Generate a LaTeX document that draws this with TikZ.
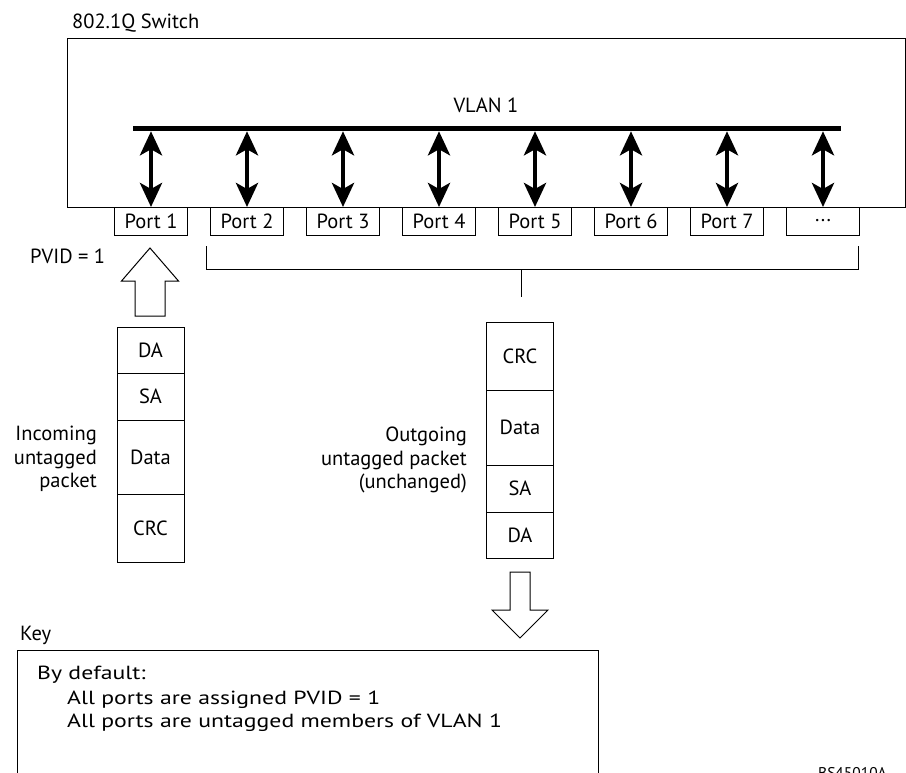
\documentclass[tikz,border=0pt]{standalone}
\usepackage{fontspec}
\setmainfont{PT Sans}
\newfontfamily\keyfont[FakeStretch=1.25]{PT Sans}
\usetikzlibrary{arrows.meta,positioning}

\begin{document}
\begin{tikzpicture}[
    x=1pt, y=-1pt,
    font=\fontsize{20.5}{23.5}\selectfont,
    port/.style={
        rectangle, draw, line width=1pt,
        minimum height=28pt, minimum width=73pt,
        inner sep=0pt, outer sep=0pt
    },
    field/.style={
        rectangle, draw, line width=1pt,
        minimum width=67pt, inner sep=0pt, outer sep=0pt
    },
    lbl/.style={inner sep=0pt, align=right},
    txt/.style={inner sep=0pt, anchor=base west},
    keytxt/.style={txt, font=\keyfont\fontsize{19}{23}\selectfont},
    dblarr/.style={{Stealth[length=24pt,width=22pt,inset=6pt]}-{Stealth[length=24pt,width=22pt,inset=6pt]}, line width=4.5pt},
    hollow/.style={draw, line width=1pt, fill=white, line join=miter}
]
\useasboundingbox (0,0) rectangle (906,772);

% switch
\node[txt] (title) at (72,28) {802.1Q Switch};
\draw[line width=1pt] (67,38) rectangle (905,207);
\node[inner sep=0pt, anchor=base] (vlan) at (486,112) {VLAN 1};
\coordinate (busl) at (133,128.5);
\coordinate (busr) at (841,128.5);
\draw[line width=5.5pt] (busl) -- (busr);

% ports
\node[port] (p1) at (151,221) {Port 1};
\node[port] (p2) at (247,221) {Port 2};
\node[port] (p3) at (343,221) {Port 3};
\node[port] (p4) at (439,221) {Port 4};
\node[port] (p5) at (535,221) {Port 5};
\node[port] (p6) at (631,221) {Port 6};
\node[port] (p7) at (727,221) {Port 7};
\node[port] (p8) at (823,221) {...};
\draw[dblarr, shorten >=2.75pt] (p1.north) -- (p1.north |- busl);
\draw[dblarr, shorten >=2.75pt] (p2.north) -- (p2.north |- busl);
\draw[dblarr, shorten >=2.75pt] (p3.north) -- (p3.north |- busl);
\draw[dblarr, shorten >=2.75pt] (p4.north) -- (p4.north |- busl);
\draw[dblarr, shorten >=2.75pt] (p5.north) -- (p5.north |- busl);
\draw[dblarr, shorten >=2.75pt] (p6.north) -- (p6.north |- busl);
\draw[dblarr, shorten >=2.75pt] (p7.north) -- (p7.north |- busl);
\draw[dblarr, shorten >=2.75pt] (p8.north) -- (p8.north |- busl);

% bracket over ports 2 to n
\coordinate (brl) at (206,246);
\coordinate (brr) at (858,246);
\coordinate (brm) at (521,269);
\draw[line width=1pt] (brl) -- (brl |- brm) -- (brr |- brm) -- (brr);
\draw[line width=1pt] (brm) -- (521,297);

% incoming packet
\node[txt] (pvid) at (30,263) {PVID = 1};
\draw[hollow] (150,248) -- (178.5,281) -- (165,281) -- (165,316)
    -- (135,316) -- (135,281) -- (121.5,281) -- cycle;
\node[field, minimum height=46pt, anchor=north] (inda) at (150.5,327) {DA};
\node[field, minimum height=47pt, below=0pt of inda] (insa) {SA};
\node[field, minimum height=74pt, below=0pt of insa] (indata) {Data};
\node[field, minimum height=68pt, below=0pt of indata] (incrc) {CRC};
\node[lbl, anchor=east] (inlbl) at (97,459) {Incoming\\untagged\\packet};

% outgoing packet
\node[field, minimum height=68pt, anchor=north] (outcrc) at (520,322) {CRC};
\node[field, minimum height=75pt, below=0pt of outcrc] (outdata) {Data};
\node[field, minimum height=47pt, below=0pt of outdata] (outsa) {SA};
\node[field, minimum height=46pt, below=0pt of outsa] (outda) {DA};
\node[lbl, anchor=east] (outlbl) at (467,460) {Outgoing\\untagged packet\\(unchanged)};
\draw[hollow] (510,572) -- (530,572) -- (530,610) -- (548,610)
    -- (520,638) -- (492,610) -- (510,610) -- cycle;

% key
\node[txt] (key) at (20,640) {Key};
\draw[line width=1pt] (17,780) -- (17,650) -- (598,650) -- (598,780);
\node[keytxt] (kdef) at (37,679) {By default:};
\node[keytxt] (kpvid) at (67,704) {All ports are assigned PVID = 1};
\node[keytxt] (kmem) at (67,727) {All ports are untagged members of VLAN 1};
\node[inner sep=0pt, anchor=base, font=\fontsize{15.5}{18}\selectfont] (figid) at (852.5,778) {BS45010A};
\end{tikzpicture}
\end{document}
